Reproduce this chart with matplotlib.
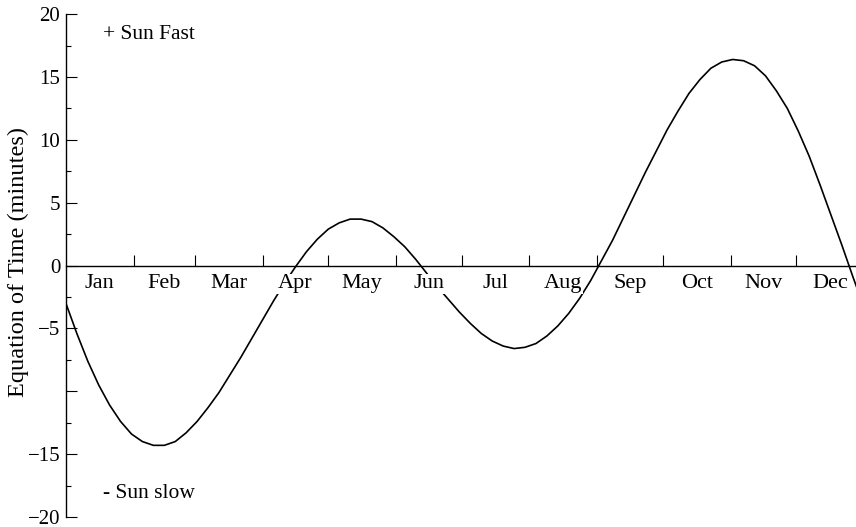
import matplotlib.pyplot as plt
from matplotlib.ticker import MultipleLocator, FixedLocator

plt.rcParams['font.family'] = ['Liberation Serif', 'DejaVu Serif']

# day of year (Jan 1 = 0) and equation of time in minutes
days = list(range(0, 370, 5))
eot = [-3.0, -5.4, -7.6, -9.5, -11.1, -12.4, -13.4, -14.0, -14.3, -14.3,
       -14.0, -13.3, -12.4, -11.3, -10.1, -8.7, -7.3, -5.8, -4.3, -2.8,
       -1.4, -0.1, 1.1, 2.1, 2.9, 3.4, 3.7, 3.7, 3.5, 3.0,
       2.3, 1.5, 0.5, -0.6, -1.7, -2.7, -3.7, -4.6, -5.4, -6.0,
       -6.4, -6.6, -6.5, -6.2, -5.6, -4.8, -3.8, -2.6, -1.2, 0.4,
       2.0, 3.8, 5.6, 7.4, 9.1, 10.8, 12.3, 13.7, 14.8, 15.7,
       16.2, 16.4, 16.3, 15.9, 15.1, 13.9, 12.5, 10.7, 8.7, 6.4,
       4.0, 1.6, -0.9, -3.3]

months = ['Jan', 'Feb', 'Mar', 'Apr', 'May', 'Jun',
          'Jul', 'Aug', 'Sep', 'Oct', 'Nov', 'Dec']
month_len = [31, 28, 31, 30, 31, 30, 31, 31, 30, 31, 30, 31]

starts = [sum(month_len[:i]) for i in range(12)]
centers = [s + n / 2 for s, n in zip(starts, month_len)]

fig = plt.figure(figsize=(8.56, 5.27), dpi=100)
ax = fig.add_axes([0.077, 0.019, 0.923, 0.954])

ax.plot(days, eot, color='black', lw=1.2, zorder=2, solid_joinstyle='round')

ax.set_xlim(0, 361.4)
ax.set_ylim(-20, 20)

for side in ['top', 'right']:
    ax.spines[side].set_visible(False)
ax.spines['bottom'].set_position(('data', 0))
ax.spines['bottom'].set_linewidth(1.0)
ax.spines['left'].set_linewidth(1.0)

ax.xaxis.set_major_locator(FixedLocator(starts[1:]))
ax.tick_params(axis='x', direction='in', length=8, width=0.8, labelbottom=False)

yt = [-20, -15, -10, -5, 0, 5, 10, 15, 20]
ax.set_yticks(yt)
ax.set_yticklabels(['\u221220', '\u221215', '', '\u22125', '0', '5', '10', '15', '20'])
ax.yaxis.set_minor_locator(MultipleLocator(2.5))
ax.tick_params(axis='y', which='major', direction='in', length=8, width=0.8,
               labelsize=15, pad=4)
ax.tick_params(axis='y', which='minor', direction='in', length=3.5, width=0.8)

for c, m in zip(centers, months):
    ax.text(c, -1.45, m, ha='center', va='center', fontsize=16, zorder=3,
            bbox=dict(facecolor='white', edgecolor='none', pad=0.5))

ax.set_ylabel('Equation of Time (minutes)', fontsize=17.5)
ax.yaxis.set_label_coords(-0.047, 0.507)
ax.text(17, 18.35, '+ Sun Fast', fontsize=15.5, va='center', ha='left')
ax.text(17, -18.1, '- Sun slow', fontsize=15.5, va='center', ha='left')

fig.savefig('out.png', dpi=100)
